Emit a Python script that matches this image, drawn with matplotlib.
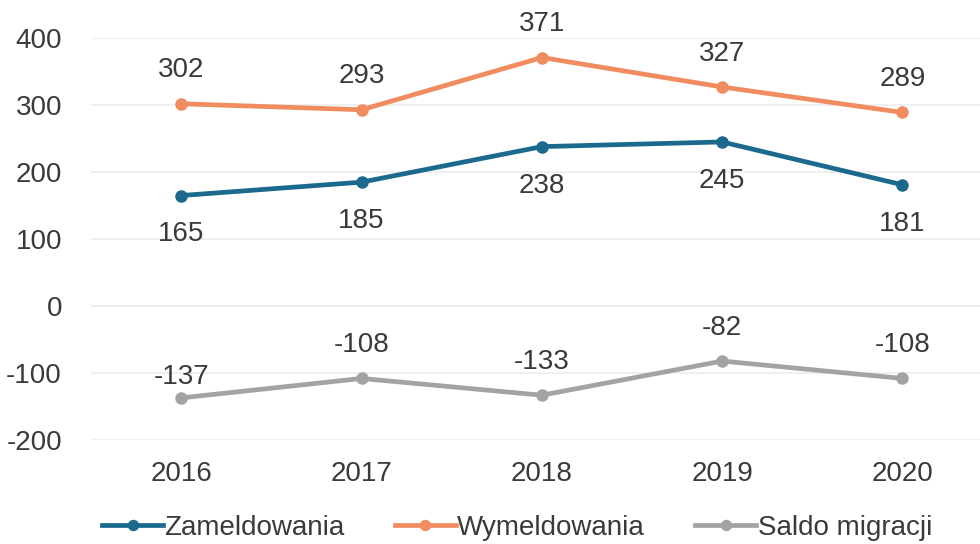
import matplotlib.pyplot as plt

years = ['2016', '2017', '2018', '2019', '2020']
zameldowania = [165, 185, 238, 245, 181]
wymeldowania = [302, 293, 371, 327, 289]
saldo = [-137, -108, -133, -82, -108]

plt.rcParams['font.family'] = ['Liberation Sans', 'DejaVu Sans']
plt.rcParams['axes.unicode_minus'] = False

fig = plt.figure(figsize=(9.8, 5.44), dpi=100)
ax = fig.add_axes([0.093, 0.191, 0.907, 0.739])

x = list(range(len(years)))
blue = '#1b6a8e'
orange = '#f08c5f'
grey = '#a3a3a3'
text_col = '#3a3a3a'
fs = 20

ax.plot(x, zameldowania, color=blue, linewidth=3.4, marker='o', markersize=8,
        label='Zameldowania', zorder=3)
ax.plot(x, wymeldowania, color=orange, linewidth=3.4, marker='o', markersize=8,
        label='Wymeldowania', zorder=3)
ax.plot(x, saldo, color=grey, linewidth=3.4, marker='o', markersize=8,
        label='Saldo migracji', zorder=3)

for i in x:
    ax.annotate(str(wymeldowania[i]), (i, wymeldowania[i]), xytext=(0, 24),
                textcoords='offset points', ha='center', va='center',
                fontsize=fs, color=text_col)
    ax.annotate(str(zameldowania[i]), (i, zameldowania[i]), xytext=(0, -28),
                textcoords='offset points', ha='center', va='center',
                fontsize=fs, color=text_col)
    # first saldo label sits closer to its point in the original
    dy = 15 if i == 0 else 24
    ax.annotate(str(saldo[i]), (i, saldo[i]), xytext=(0, dy),
                textcoords='offset points', ha='center', va='center',
                fontsize=fs, color=text_col)

ax.set_xlim(-0.5, 4.43)
ax.set_ylim(-200, 400)
ax.set_yticks([-200, -100, 0, 100, 200, 300, 400])
ax.set_xticks(x)
ax.set_xticklabels(years)
ax.grid(axis='y', color='#efefef', linewidth=1.5, zorder=0)
for s in ax.spines.values():
    s.set_visible(False)
ax.tick_params(axis='both', length=0, labelsize=fs, labelcolor=text_col)
ax.tick_params(axis='y', pad=21)
ax.tick_params(axis='x', pad=15)

ax.legend(loc='center left', bbox_to_anchor=(102 / 980, 1 - 528 / 544),
          bbox_transform=fig.transFigure, borderpad=0, borderaxespad=0,
          ncol=3, frameon=False, fontsize=fs, handlelength=2.2, handletextpad=0.05,
          columnspacing=1.8, labelcolor=text_col, markerscale=0.9)

fig.savefig('out.png', dpi=100)
